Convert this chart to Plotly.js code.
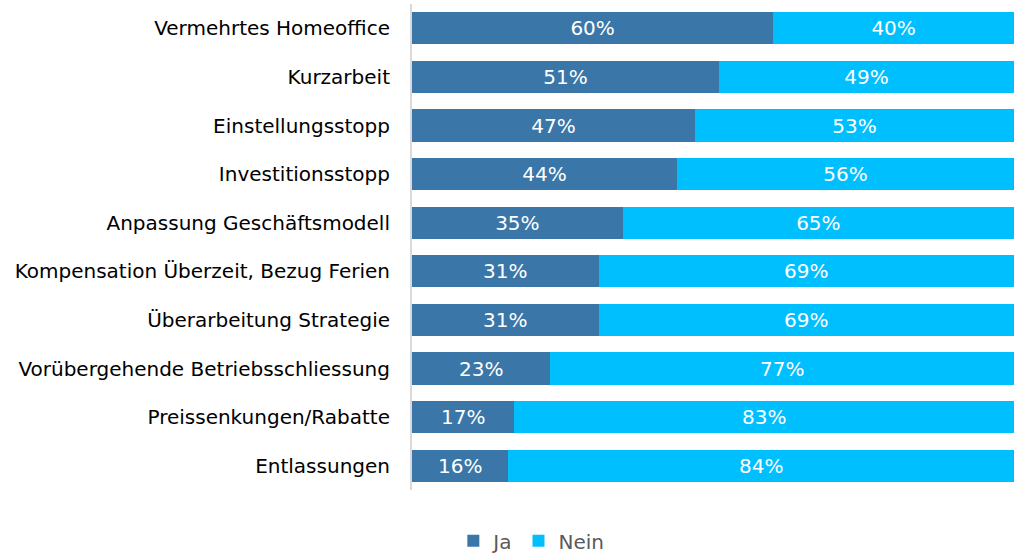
<!DOCTYPE html>
<html>
<head>
<meta charset="utf-8">
<script src="https://cdn.plot.ly/plotly-3.0.1.min.js"></script>
<style>html,body{margin:0;padding:0;background:#fff;}#chart{width:1014px;height:553px;}</style>
</head>
<body>
<div id="chart"></div>
<script>
const categories = [
  "Vermehrtes Homeoffice",
  "Kurzarbeit",
  "Einstellungsstopp",
  "Investitionsstopp",
  "Anpassung Geschäftsmodell",
  "Kompensation Überzeit, Bezug Ferien",
  "Überarbeitung Strategie",
  "Vorübergehende Betriebsschliessung",
  "Preissenkungen/Rabatte",
  "Entlassungen"
];
const ja = [60, 51, 47, 44, 35, 31, 31, 23, 17, 16];
const nein = [40, 49, 53, 56, 65, 69, 69, 77, 83, 84];
const seriesNames = ["Ja", "Nein"];
const colors = ["#3A76A8", "#00BFFF"];

const fontFam = "'DejaVu Sans', sans-serif";
function mk(vals, i) {
  return {
    type: "bar",
    orientation: "h",
    name: seriesNames[i],
    y: categories,
    x: vals,
    marker: {color: colors[i], line: {width: 0}},
    text: vals.map(v => v + "%"),
    textposition: "inside",
    insidetextanchor: "middle",
    textfont: {color: "#ffffff", size: 20, family: fontFam},
    hoverinfo: "skip"
  };
}
const data = [mk(ja, 0), mk(nein, 1)];
const layout = {
  width: 1014, height: 553,
  barmode: "stack",
  bargap: 0.34,
  margin: {l: 412, r: 0, t: 4, b: 63},
  paper_bgcolor: "#fff",
  plot_bgcolor: "#fff",
  font: {family: fontFam, size: 20, color: "#000"},
  xaxis: {range: [0, 100], visible: false, fixedrange: true},
  yaxis: {
    autorange: "reversed",
    showline: true, linecolor: "#d9d9d9", linewidth: 2,
    ticks: "", showgrid: false, zeroline: false,
    ticklabelstandoff: 16,
    tickfont: {size: 20, color: "#000", family: fontFam}
  },
  showlegend: true,
  legend: {
    orientation: "h",
    xref: "container", yref: "container",
    x: 0.524, xanchor: "center",
    y: 0.022, yanchor: "middle",
    font: {size: 20, color: "#595959", family: fontFam},
    itemwidth: 30,
    traceorder: "normal"
  }
};
Plotly.newPlot("chart", data, layout, {displayModeBar: false, staticPlot: true});
</script>
</body>
</html>
